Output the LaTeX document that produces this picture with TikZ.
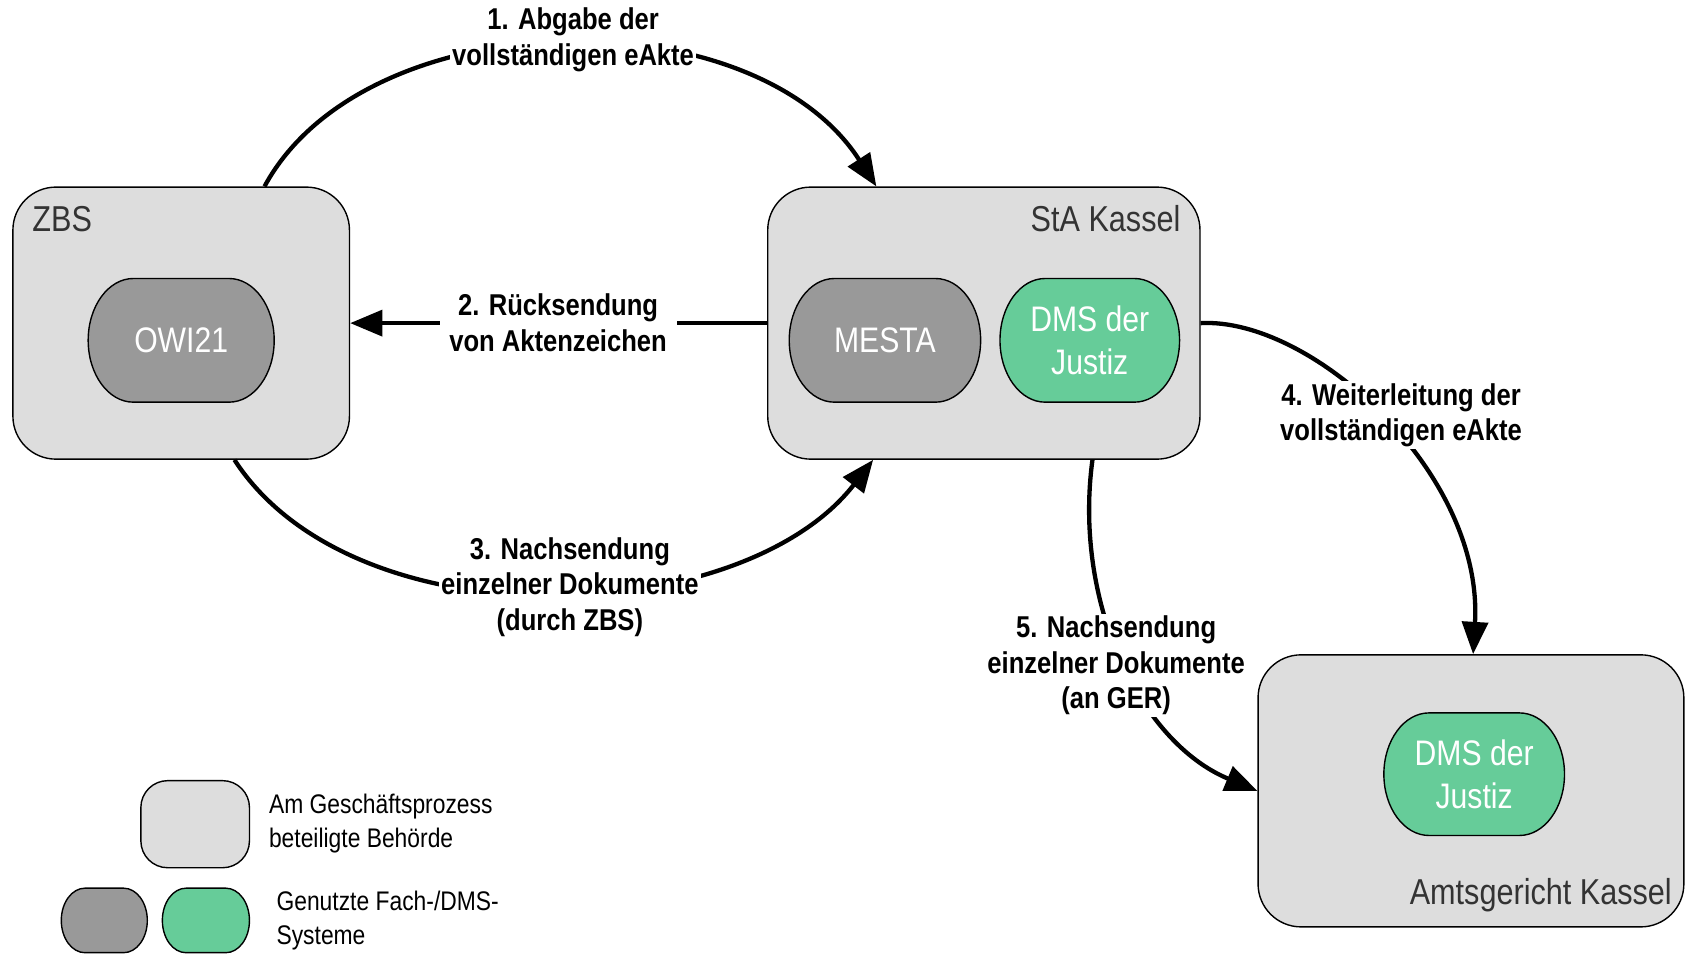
\documentclass[tikz,border=0pt]{standalone}
\usepackage{fontspec}
\setmainfont{Liberation Sans}[FakeStretch=0.85]
\usetikzlibrary{arrows.meta,calc}
\definecolor{boxgray}{HTML}{DDDDDD}
\definecolor{sysgray}{HTML}{999999}
\definecolor{sysgreen}{HTML}{66CC99}
\definecolor{titlegray}{HTML}{333333}
% oval shape: cx, cy, half width, half height, fill, rx, ry
\newcommand\ovalshape[7]{%
  \pgfmathsetmacro\xa{#1-#3}\pgfmathsetmacro\xb{#1+#3}%
  \pgfmathsetmacro\ya{#2-#4}\pgfmathsetmacro\yb{#2+#4}%
  \pgfmathsetmacro\kx{0.448*#6}\pgfmathsetmacro\ky{0.448*#7}%
  \draw[line width=1.3pt, fill=#5]
    ({\xa+#6},\ya) -- ({\xb-#6},\ya)
    .. controls ({\xb-\kx},\ya) and (\xb,{\ya+\ky}) .. (\xb,{\ya+#7})
    -- (\xb,{\yb-#7})
    .. controls (\xb,{\yb-\ky}) and ({\xb-\kx},\yb) .. ({\xb-#6},\yb)
    -- ({\xa+#6},\yb)
    .. controls ({\xa+\kx},\yb) and (\xa,{\yb-\ky}) .. (\xa,{\yb-#7})
    -- (\xa,{\ya+#7})
    .. controls (\xa,{\ya+\ky}) and ({\xa+\kx},\ya) .. cycle;}
\begin{document}
\begin{tikzpicture}[x=1pt,y=-1pt,
  org/.style={draw=black, line width=1.3pt, fill=boxgray, rounded corners=40pt, inner sep=0pt},
  sys/.style={inner sep=0pt, text=white, align=center,
     font=\fontsize{33}{40}\selectfont, minimum height=115pt},
  ttl/.style={text=titlegray, font=\fontsize{33.5}{40}\selectfont, inner sep=0pt},
  lbl/.style={fill=white, align=center, font=\bfseries\fontsize{28}{33}\selectfont, inner sep=2pt},
  leg/.style={align=left, font=\fontsize{25}{31}\selectfont, inner sep=0pt, anchor=west},
  flow/.style={line width=4pt, -{Triangle[length=30pt,width=24pt]}}
]
\useasboundingbox (0,0) rectangle (1568,887);

% organisations
\node[org, minimum width=313pt, minimum height=253pt] (zbs) at (168.5,300.5) {};
\node[org, minimum width=402pt, minimum height=253pt] (sta) at (915,300.5) {};
\node[org, minimum width=396pt, minimum height=253pt] (ag) at (1368,735.5) {};

\node[ttl, anchor=base west] (tzbs) at (30,215) {ZBS};
\node[ttl, anchor=base east] (tsta) at (1098,215) {StA Kassel};
\node[ttl, anchor=base east] (tag) at (1555,841) {Amtsgericht Kassel};

% systems
\ovalshape{168.5}{316.5}{86.5}{57.5}{sysgray}{42}{57.5}
\ovalshape{823}{316.5}{89}{57.5}{sysgray}{42}{57.5}
\ovalshape{1013.5}{316.5}{83.5}{57.5}{sysgreen}{42}{57.5}
\ovalshape{1371}{720}{84}{57}{sysgreen}{42}{57}
\node[sys, minimum width=173pt] (owi) at (168.5,316.5) {OWI21};
\node[sys, minimum width=178pt] (mesta) at (823,316.5) {MESTA};
\node[sys, minimum width=167pt] (dms1) at (1013.5,316.5) {DMS der\\Justiz};
\node[sys, minimum width=168pt] (dms2) at (1371,720) {DMS der\\Justiz};

% flows
\draw[flow] ($(zbs.north)+(77.5,0)$) .. controls (340,0) and (700,-5) .. ($(sta.north)+(-100,0)$);
\draw[flow] (sta.west) -- (zbs.east);
\draw[flow] ($(zbs.south)+(49.5,0)$) .. controls (330,600) and (690,585) .. ($(sta.south)+(-103,0)$);
\draw[flow] (sta.east) .. controls (1220,295) and (1380,440) .. ($(ag.north)+(2,0)$);
\draw[flow] ($(sta.south)+(101,0)$) .. controls (998,560) and (1060,690) .. (ag.west);

% labels
\node[lbl] (l1) at (533,37) {1. Abgabe der\\vollständigen eAkte};
\node[lbl, inner xsep=9pt] (l2) at (519,300) {2. Rücksendung\\von Aktenzeichen};
\node[lbl] (l3) at (530,546) {3. Nachsendung\\einzelner Dokumente\\(durch ZBS)};
\node[lbl] (l4) at (1303,386) {4. Weiterleitung der\\vollständigen eAkte};
\node[lbl] (l5) at (1038,619) {5. Nachsendung\\einzelner Dokumente\\(an GER)};

% legend
\node[org, rounded corners=25pt, minimum width=101pt, minimum height=81pt] (lg1) at (181.5,766.5) {};
\ovalshape{97}{856}{40}{30}{sysgray}{22}{30}
\ovalshape{191.5}{856}{40.5}{30}{sysgreen}{22}{30}
\coordinate (lg2) at (97,856);
\coordinate (lg3) at (191.5,856);
\node[leg] (lt1) at (250,766) {Am Geschäftsprozess\\beteiligte Behörde};
\node[leg] (lt2) at (257,856) {Genutzte Fach-/DMS-\\Systeme};
\end{tikzpicture}
\end{document}
